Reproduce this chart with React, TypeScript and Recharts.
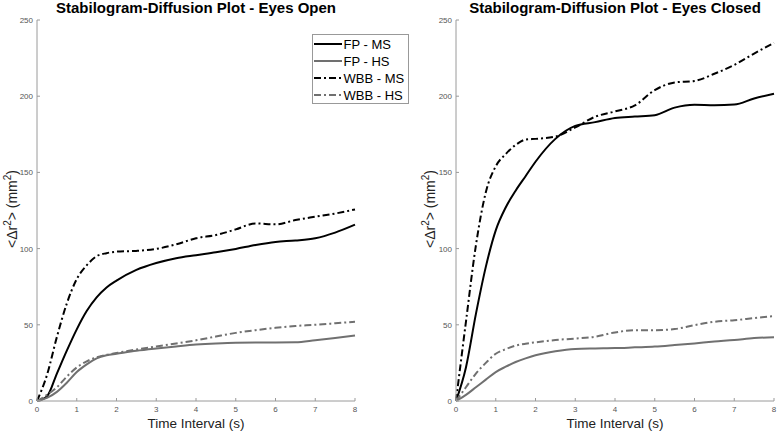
import React from 'react';
import { LineChart, Line, XAxis, YAxis } from 'recharts';

// time lags (s)
const TIME = [0, 0.25, 0.5, 0.75, 1, 1.25, 1.5, 1.75, 2, 2.5, 3, 3.5, 4, 4.5, 5, 5.5, 6, 6.5, 7, 7.5, 8];

// eyes open, mean squared displacement (mm^2)
const OPEN_FP_MS = [0, 3, 18, 33, 47, 59, 68, 74.5, 79, 86, 90.5, 93.7, 95.7, 97.6, 99.8, 102.4, 104.4, 105.3, 106.8, 110.5, 115.7];
const OPEN_FP_HS = [0, 2, 6, 12, 19, 24, 28, 30, 31, 33, 34.5, 35.8, 37, 37.8, 38.3, 38.4, 38.4, 38.5, 39.8, 41.3, 43];
const OPEN_WBB_MS = [0, 17, 42, 64, 80, 89, 95, 97, 98, 98.5, 99.8, 102.8, 106.8, 108.9, 112.6, 116.5, 115.9, 118.7, 120.9, 123, 125.7];
const OPEN_WBB_HS = [0, 4, 9, 16, 22, 26, 28.7, 30.3, 31.5, 33.8, 35.8, 37.8, 39.8, 42.3, 44.7, 46.5, 48, 49.2, 50, 51, 52];

// eyes closed
const CLOSED_FP_MS = [0, 22, 57, 88, 112, 127, 138, 147.5, 157, 172, 180.5, 183, 185.7, 186.6, 187.5, 192.5, 194.4, 194, 194.5, 198.5, 201.6];
const CLOSED_FP_HS = [0, 4, 9, 14, 19, 22.5, 25.6, 28, 30, 32.7, 34.2, 34.5, 34.7, 35.2, 35.7, 36.7, 37.8, 39, 40, 41.3, 41.8];
const CLOSED_WBB_MS = [0, 52, 102, 137, 154, 162, 168, 171.5, 172, 173.5, 179.5, 186.5, 190, 194, 204, 209, 210, 214.7, 220.5, 228, 235];
const CLOSED_WBB_HS = [0, 9, 18, 25, 31, 34, 36.3, 37.6, 38.5, 40, 41, 42.2, 45, 46.5, 46.5, 47.2, 49.8, 52, 53, 54.4, 55.7];

const X_TICKS = [0, 1, 2, 3, 4, 5, 6, 7, 8];
const Y_TICKS = [0, 50, 100, 150, 200, 250];

const SERIES = [
  { key: 'fpMs', name: 'FP - MS', color: '#000000', dash: undefined as string | undefined },
  { key: 'fpHs', name: 'FP - HS', color: '#707070', dash: undefined as string | undefined },
  { key: 'wbbMs', name: 'WBB - MS', color: '#000000', dash: '7 3 2 3' },
  { key: 'wbbHs', name: 'WBB - HS', color: '#707070', dash: '7 3 2 3' },
];

const openData = TIME.map((t, i) => ({
  t,
  fpMs: OPEN_FP_MS[i],
  fpHs: OPEN_FP_HS[i],
  wbbMs: OPEN_WBB_MS[i],
  wbbHs: OPEN_WBB_HS[i],
}));

const closedData = TIME.map((t, i) => ({
  t,
  fpMs: CLOSED_FP_MS[i],
  fpHs: CLOSED_FP_HS[i],
  wbbMs: CLOSED_WBB_MS[i],
  wbbHs: CLOSED_WBB_HS[i],
}));

const FONT = '"Liberation Sans", Arial, sans-serif';
const AXIS = '#9a9a9a';

// MATLAB style ticks: short marks pointing into the plot
function XTick(props: any) {
  const { x, y, payload } = props;
  return (
    <g>
      <line x1={x} y1={y} x2={x} y2={y - 3} stroke={AXIS} />
      <text x={x} y={y + 11} textAnchor="middle" fontSize={8} fill="#555" fontFamily={FONT}>
        {payload.value}
      </text>
    </g>
  );
}

function YTick(props: any) {
  const { x, y, payload } = props;
  return (
    <g>
      <line x1={x} y1={y} x2={x + 3} y2={y} stroke={AXIS} />
      <text x={x - 4} y={y + 3} textAnchor="end" fontSize={8} fill="#555" fontFamily={FONT}>
        {payload.value}
      </text>
    </g>
  );
}

function Panel({ data, left, width, margin }: { data: any[]; left: number; width: number; margin: any }) {
  return (
    <div style={{ position: 'absolute', left, top: 0 }}>
      <LineChart width={width} height={433} data={data} margin={margin}>
        <XAxis
          dataKey="t"
          type="number"
          domain={[0, 8]}
          ticks={X_TICKS}
          height={32}
          tickSize={0}
          tickMargin={0}
          tickLine={false}
          stroke={AXIS}
          tick={XTick}
          interval={0}
        />
        <YAxis
          type="number"
          domain={[0, 250]}
          ticks={Y_TICKS}
          width={37}
          tickSize={0}
          tickMargin={0}
          tickLine={false}
          stroke={AXIS}
          tick={YTick}
          interval={0}
        />
        {SERIES.map((s) => (
          <Line
            key={s.key}
            dataKey={s.key}
            name={s.name}
            type="monotone"
            stroke={s.color}
            strokeWidth={2}
            strokeDasharray={s.dash}
            dot={false}
            isAnimationActive={false}
          />
        ))}
      </LineChart>
    </div>
  );
}

function YLabel({ x }: { x: number }) {
  return (
    <text transform={`translate(${x},209) rotate(-90)`} textAnchor="middle" fontSize={14} fill="#222" fontFamily={FONT}>
      {'<\u0394r'}
      <tspan dy={-6} fontSize={10}>2</tspan>
      <tspan dy={6}>{'> (mm'}</tspan>
      <tspan dy={-6} fontSize={10}>2</tspan>
      <tspan dy={6}>)</tspan>
    </text>
  );
}

export default function App() {
  return (
    <div style={{ position: 'absolute', left: 0, top: 0, width: 778, height: 433, background: '#fff', overflow: 'hidden' }}>
      <Panel data={openData} left={0} width={390} margin={{ top: 20, left: 0, right: 35, bottom: 0 }} />
      <Panel data={closedData} left={390} width={388} margin={{ top: 20, left: 29, right: 4, bottom: 0 }} />
      <svg width={778} height={433} style={{ position: 'absolute', left: 0, top: 0, pointerEvents: 'none' }}>
        <text x={196} y={13} textAnchor="middle" fontSize={15} fontWeight="bold" fill="#000" fontFamily={FONT}>
          Stabilogram-Diffusion Plot - Eyes Open
        </text>
        <text x={615} y={13} textAnchor="middle" fontSize={15} fontWeight="bold" fill="#000" fontFamily={FONT}>
          Stabilogram-Diffusion Plot - Eyes Closed
        </text>
        <text x={196} y={428} textAnchor="middle" fontSize={13.5} fill="#222" fontFamily={FONT}>
          Time Interval (s)
        </text>
        <text x={615} y={428} textAnchor="middle" fontSize={13.5} fill="#222" fontFamily={FONT}>
          Time Interval (s)
        </text>
        <YLabel x={17} />
        <YLabel x={435} />
        <g transform="translate(312,34)">
          <rect x={0.5} y={0.5} width={96} height={69} fill="#fff" stroke="#999" />
          {SERIES.map((s, i) => {
            const cy = 10 + i * 17;
            return (
              <g key={s.key}>
                <line x1={2} y1={cy} x2={30} y2={cy} stroke={s.color} strokeWidth={2} strokeDasharray={s.dash} />
                <text x={31.5} y={cy + 4.5} fontSize={13} fill="#000" fontFamily={FONT}>
                  {s.name}
                </text>
              </g>
            );
          })}
        </g>
      </svg>
    </div>
  );
}
